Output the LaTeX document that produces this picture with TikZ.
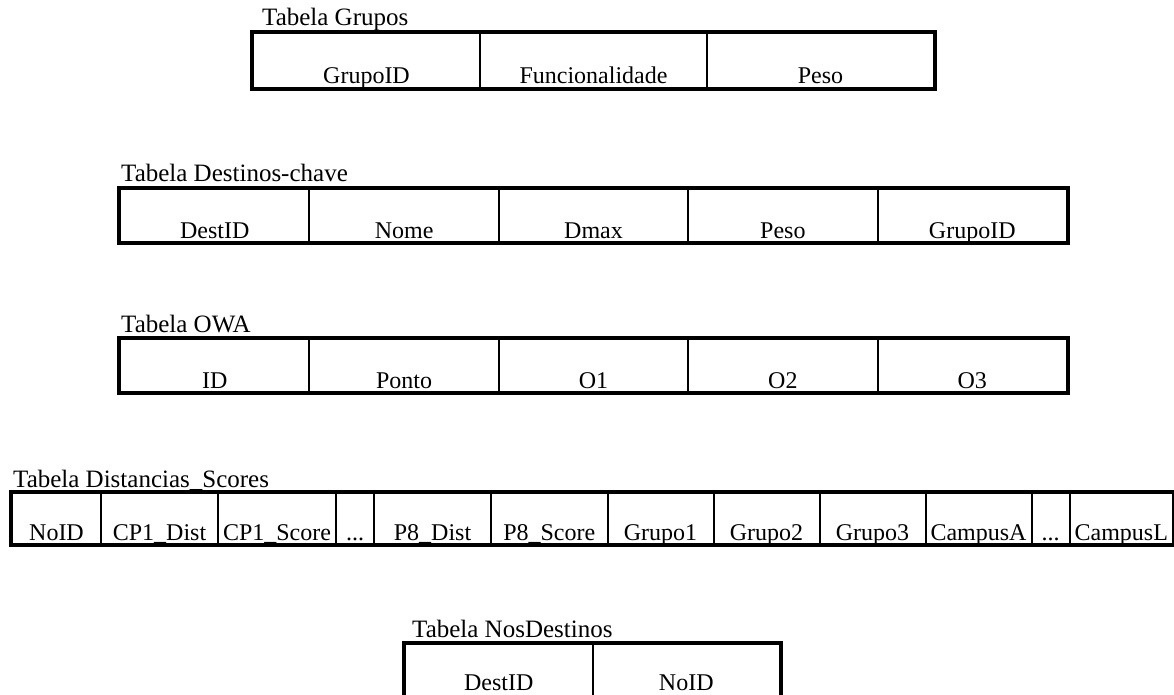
\documentclass[tikz,border=0pt]{standalone}
\usepackage{fontspec}
\setmainfont{Liberation Serif}
\newcommand\threedots{...}
\begin{document}
\begin{tikzpicture}[x=1pt,y=-1pt,
  cellbox/.style={draw, line width=2pt, anchor=north west, inner sep=0pt, minimum height=53pt},
  celltext/.style={anchor=base, inner sep=0pt, font=\fontsize{24}{24}\selectfont},
  tabtitle/.style={anchor=base west, inner sep=0pt, font=\fontsize{25}{25}\selectfont},
  frame/.style={draw, line width=4pt}]
\useasboundingbox (0,0) rectangle (1174,695);
\clip (0,0) rectangle (1174,695);

% Tabela Grupos
\foreach \n/\x/\t in {g1/252/GrupoID, g2/479/Funcionalidade, g3/706/Peso}{
  \node[cellbox, minimum width=227pt, minimum height=55pt] (\n) at (\x,32) {};
  \node[celltext] at ([yshift=5pt]\n.south) {\t};
}
\draw[frame] (g1.north west) rectangle (g3.south east);
\node[tabtitle] (tg) at ([xshift=10pt, yshift=6pt]g1.north west) {Tabela Grupos};

% Tabela Destinos-chave
\foreach \n/\x/\t in {d1/119/DestID, d2/308.4/Nome, d3/497.8/Dmax, d4/687.2/Peso, d5/876.6/GrupoID}{
  \node[cellbox, minimum width=189.4pt] (\n) at (\x,188) {};
  \node[celltext] at ([yshift=5pt]\n.south) {\t};
}
\draw[frame] (d1.north west) rectangle (d5.south east);
\node[tabtitle] (td) at ([xshift=2pt, yshift=6pt]d1.north west) {Tabela Destinos-chave};

% Tabela OWA
\foreach \n/\x/\t in {o1/119/ID, o2/308.4/Ponto, o3/497.8/O1, o4/687.2/O2, o5/876.6/O3}{
  \node[cellbox, minimum width=189.4pt] (\n) at (\x,338) {};
  \node[celltext] at ([yshift=5pt]\n.south) {\t};
}
\draw[frame] (o1.north west) rectangle (o5.south east);
\node[tabtitle] (to) at ([xshift=2pt, yshift=6pt]o1.north west) {Tabela OWA};

% Tabela Distancias_Scores
\foreach \n/\x/\w/\t in {s1/11/89/NoID, s2/100/117/CP1\_Dist, s3/217/118/CP1\_Score,
    s4/335/38/\threedots, s5/373/117/P8\_Dist, s6/490/116.5/P8\_Score, s7/606.5/106/Grupo1,
    s8/712.5/106/Grupo2, s9/818.5/106/Grupo3, s10/924.5/106/CampusA,
    s11/1030.5/38/\threedots, s12/1068.5/103.5/CampusL}{
  \node[cellbox, minimum width=\w pt, minimum height=51pt] (\n) at (\x,492) {};
  \node[celltext] at ([yshift=5pt]\n.south) {\t};
}
\draw[frame] (s1.north west) rectangle (s12.south east);
\node[tabtitle] (ts) at ([xshift=2pt, yshift=5pt]s1.north west) {Tabela Distancias\_Scores};

% Tabela NosDestinos (its lower edge lies just below the page)
\foreach \n/\x/\t in {n1/404/DestID, n2/591.5/NoID}{
  \node[cellbox, minimum width=187.5pt, minimum height=55pt] (\n) at (\x,643) {};
  \node[celltext] at ([yshift=10pt]\n.south) {\t};
}
\draw[frame] (n1.north west) rectangle (n2.south east);
\node[tabtitle] (tn) at ([xshift=8pt, yshift=6pt]n1.north west) {Tabela NosDestinos};
\end{tikzpicture}
\end{document}
